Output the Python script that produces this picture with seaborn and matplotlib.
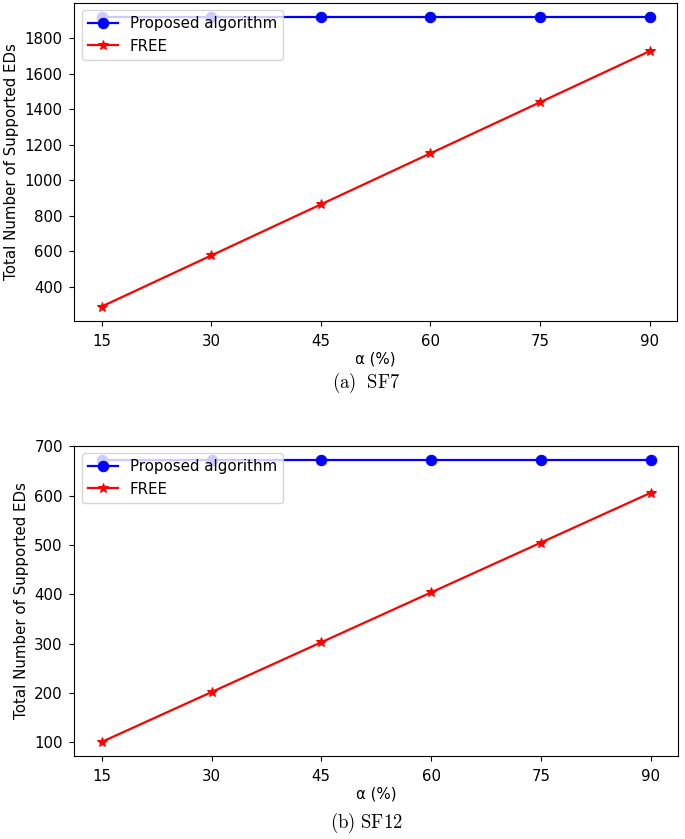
import matplotlib
matplotlib.use("Agg")
import matplotlib.pyplot as plt
import seaborn as sns
import pandas as pd

alpha_pct = [15, 30, 45, 60, 75, 90]
sf7_proposed = [1920, 1920, 1920, 1920, 1920, 1920]
sf7_free = [288, 576, 864, 1152, 1440, 1728]
sf12_proposed = [673, 673, 673, 673, 673, 673]
sf12_free = [101, 202, 303, 404, 505, 606]
sf7_yticks = [400, 600, 800, 1000, 1200, 1400, 1600, 1800]
sf12_yticks = [100, 200, 300, 400, 500, 600, 700]
captions = [r"$\mathrm{(a)\ \ SF7}$", r"$\mathrm{(b)\ SF12}$"]

plt.rcParams['mathtext.fontset'] = 'cm'
plt.rcParams['font.size'] = 10.8
plt.rcParams['xtick.major.pad'] = 5.6
plt.rcParams['ytick.major.pad'] = 4.5
plt.rcParams['xtick.major.size'] = 3.8
plt.rcParams['ytick.major.size'] = 3.8

fig = plt.figure(figsize=(6.85, 8.39), dpi=100)
W, H = 685, 839
boxes = [(74.3, 2.7, 677, 321), (74.3, 445.7, 678, 756)]
caption_y = [383, 823]
series = [(sf7_proposed, sf7_free, sf7_yticks), (sf12_proposed, sf12_free, sf12_yticks)]

for (l, t, r, b), (prop, free, yt), cap, cy in zip(boxes, series, captions, caption_y):
    ax = fig.add_axes([l / W, 1 - b / H, (r - l) / W, (b - t) / H])
    df = pd.DataFrame({"alpha": alpha_pct, "prop": prop, "free": free})
    sns.lineplot(data=df, x="alpha", y="prop", ax=ax, color="blue", marker="o",
                 markersize=7.5, markeredgecolor="blue", linewidth=1.6,
                 label="Proposed algorithm")
    sns.lineplot(data=df, x="alpha", y="free", ax=ax, color="red", marker="*",
                 markersize=7.5, markeredgecolor="red", linewidth=1.6,
                 label="FREE")
    ax.set_xticks(alpha_pct)
    ax.set_yticks(yt)
    ax.set_xlabel("α (%)", labelpad=2)
    ax.set_ylabel("Total Number of Supported EDs")
    ax.legend(loc="upper left", fontsize=10.8)
    fig.text(366 / W, 1 - cy / H, cap, ha="center", va="center", fontsize=13.5)

fig.savefig("out.png", dpi=100)
